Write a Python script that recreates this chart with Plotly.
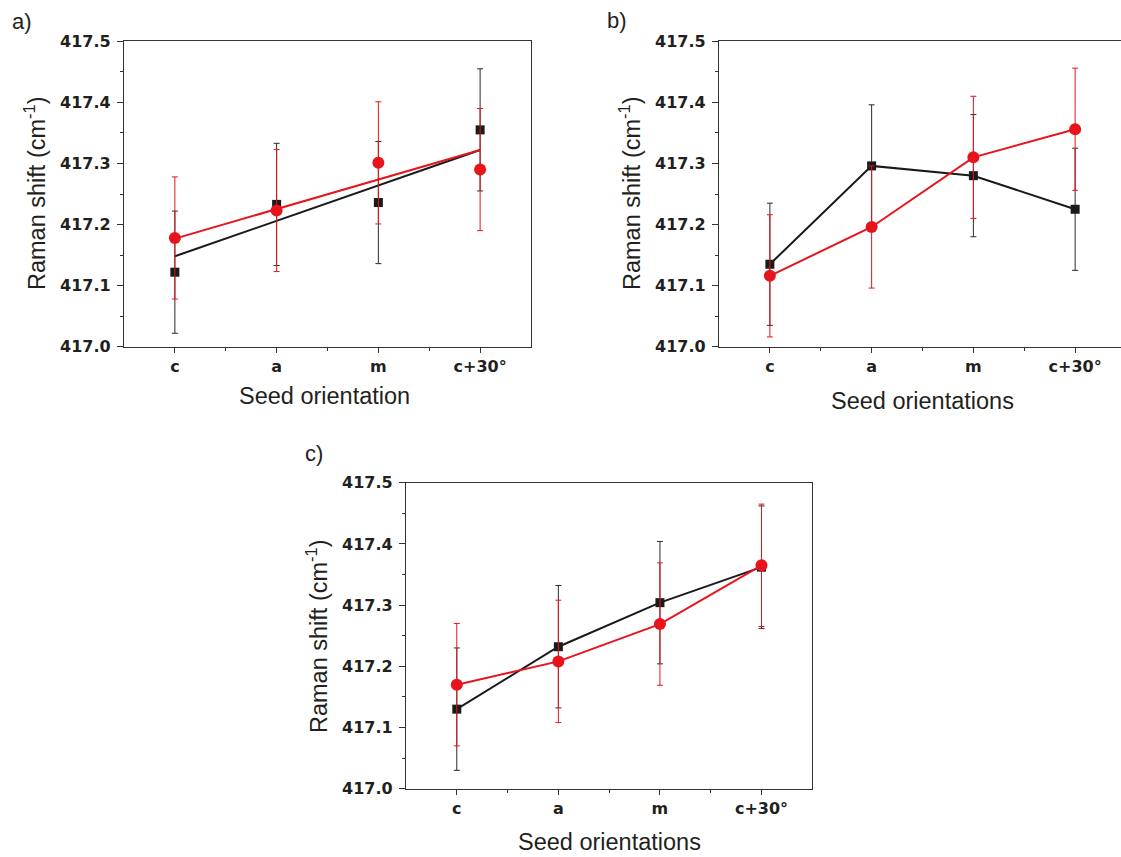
import plotly.graph_objects as go

# ---------------- data ----------------
categories = ["c", "a", "m", "c+30°"]

a_black = [417.122, 417.233, 417.236, 417.355]
a_black_err = [0.100, 0.100, 0.100, 0.100]
a_red = [417.178, 417.223, 417.301, 417.290]
a_red_err = [0.100, 0.100, 0.100, 0.100]
a_fit_cats = ["c", "c+30°"]
a_black_fit = [417.148, 417.322]
a_red_fit = [417.177, 417.322]

b_black = [417.135, 417.296, 417.280, 417.225]
b_black_err = [0.100, 0.100, 0.100, 0.100]
b_red = [417.116, 417.196, 417.310, 417.356]
b_red_err = [0.100, 0.100, 0.100, 0.100]

c_black = [417.130, 417.232, 417.304, 417.362]
c_black_err = [0.100, 0.100, 0.100, 0.100]
c_red = [417.170, 417.208, 417.269, 417.365]
c_red_err = [0.100, 0.100, 0.100, 0.100]

y_ticks = [417.0, 417.1, 417.2, 417.3, 417.4, 417.5]

# ---------------- style ----------------
W, H = 1121, 857
BLACK = "#1a1a1a"
RED = "#e8141c"
AXC = "#333333"
TICKFONT = dict(family="DejaVu Sans", size=16, color="#231f20", weight="bold")
TITLEFONT = dict(family="Liberation Sans, Arial", size=23.5, color="#231f20")
LABELFONT = dict(family="Liberation Sans, Arial", size=22, color="#231f20")

xpos = list(range(len(categories)))


def idx(cats):
    return [categories.index(c) for c in cats]


fig = go.Figure()


def add_series(xa, ya, vals, errs, color, symbol, size, mode, errcolor):
    fig.add_trace(go.Scatter(
        x=xpos, y=vals, mode=mode, xaxis=xa, yaxis=ya,
        line=dict(color=color, width=2),
        marker=dict(color=color, symbol=symbol, size=size, line=dict(width=0)),
        error_y=dict(type="data", array=errs, visible=True, color=errcolor,
                     thickness=1, width=3),
        showlegend=False, cliponaxis=False,
    ))


# panel a
fig.add_trace(go.Scatter(x=idx(a_fit_cats), y=a_black_fit, mode="lines", xaxis="x", yaxis="y",
                         line=dict(color=BLACK, width=2), showlegend=False))
fig.add_trace(go.Scatter(x=idx(a_fit_cats), y=a_red_fit, mode="lines", xaxis="x", yaxis="y",
                         line=dict(color=RED, width=2), showlegend=False))
add_series("x", "y", a_black, a_black_err, BLACK, "square", 9, "markers", "#2a2a2a")
add_series("x", "y", a_red, a_red_err, RED, "circle", 12, "markers", RED)

# panel b
add_series("x2", "y2", b_black, b_black_err, BLACK, "square", 9, "lines+markers", "#2a2a2a")
add_series("x2", "y2", b_red, b_red_err, RED, "circle", 12, "lines+markers", RED)

# panel c
add_series("x3", "y3", c_black, c_black_err, BLACK, "square", 9, "lines+markers", "#2a2a2a")
add_series("x3", "y3", c_red, c_red_err, RED, "circle", 12, "lines+markers", RED)


def px_x(v):
    return v / W


def px_y(v):
    return 1 - v / H


def xaxis_cfg(domain, rng, anchor):
    return dict(
        domain=domain, range=rng, anchor=anchor, automargin=False,
        tickmode="array", tickvals=xpos, ticktext=categories,
        ticks="outside", ticklen=5, tickwidth=1.2, tickcolor=AXC,
        minor=dict(tickmode="array", tickvals=[0.5, 1.5, 2.5], ticks="outside",
                   ticklen=3, tickwidth=1.2, tickcolor=AXC),
        showline=True, linecolor=AXC, linewidth=1.3, mirror=True,
        showgrid=False, zeroline=False, tickfont=TICKFONT, fixedrange=True,
    )


def yaxis_cfg(domain, anchor, mirror=True):
    return dict(
        domain=domain, range=[417.0, 417.5], anchor=anchor, automargin=False,
        tickmode="array", tickvals=y_ticks, tickformat=".1f",
        ticks="outside", ticklen=6, tickwidth=1.2, tickcolor=AXC,
        minor=dict(dtick=0.05, tick0=417.0, ticks="outside", ticklen=3,
                   tickwidth=1.2, tickcolor=AXC),
        showline=True, linecolor=AXC, linewidth=1.3, mirror=mirror,
        showgrid=False, zeroline=False, tickfont=TICKFONT, fixedrange=True,
        ticklabelstandoff=3,
    )


# pixel geometry of the three panels
ax_l, ax_r = 124, 531
bx_l = 719
cx_l, cx_r = 406, 812.3
top_ab, bot_ab = 41.3, 346.7
top_c, bot_c = 482.7, 788.7
cat_px = (ax_r - ax_l) / 4.0
b_right_val = -0.5 + (W - bx_l) / cat_px

fig.update_layout(
    template="none",
    width=W, height=H,
    margin=dict(l=0, r=0, t=0, b=0, autoexpand=False),
    paper_bgcolor="white", plot_bgcolor="white",
    xaxis=xaxis_cfg([px_x(ax_l), px_x(ax_r)], [-0.5, 3.5], "y"),
    yaxis=yaxis_cfg([px_y(bot_ab), px_y(top_ab)], "x"),
    xaxis2=xaxis_cfg([px_x(bx_l), 1.0], [-0.5, b_right_val], "y2"),
    yaxis2=yaxis_cfg([px_y(bot_ab), px_y(top_ab)], "x2", mirror=False),
    xaxis3=xaxis_cfg([px_x(cx_l), px_x(cx_r)], [-0.5, 3.5], "y3"),
    yaxis3=yaxis_cfg([px_y(bot_c), px_y(top_c)], "x3"),
)

ytitle = "Raman shift (cm<sup>-1</sup>)"
annots = [
    # panel labels
    dict(text="a)", x=px_x(22), y=px_y(22), font=LABELFONT),
    dict(text="b)", x=px_x(617), y=px_y(20), font=LABELFONT),
    dict(text="c)", x=px_x(314), y=px_y(453), font=LABELFONT),
    # x titles
    dict(text="Seed orientation", x=px_x(324), y=px_y(396), font=TITLEFONT),
    dict(text="Seed orientations", x=px_x(922), y=px_y(401), font=TITLEFONT),
    dict(text="Seed orientations", x=px_x(609), y=px_y(842), font=TITLEFONT),
    # y titles
    dict(text=ytitle, x=px_x(35), y=px_y(193), textangle=-90, font=TITLEFONT),
    dict(text=ytitle, x=px_x(630), y=px_y(193), textangle=-90, font=TITLEFONT),
    dict(text=ytitle, x=px_x(317), y=px_y(636), textangle=-90, font=TITLEFONT),
]
for a in annots:
    fig.add_annotation(xref="paper", yref="paper", showarrow=False,
                       xanchor="center", yanchor="middle", **a)

fig.write_html(
    "out.html",
    config={"displayModeBar": False},
    post_script="document.body.style.margin='0';document.body.style.padding='0';",
)
